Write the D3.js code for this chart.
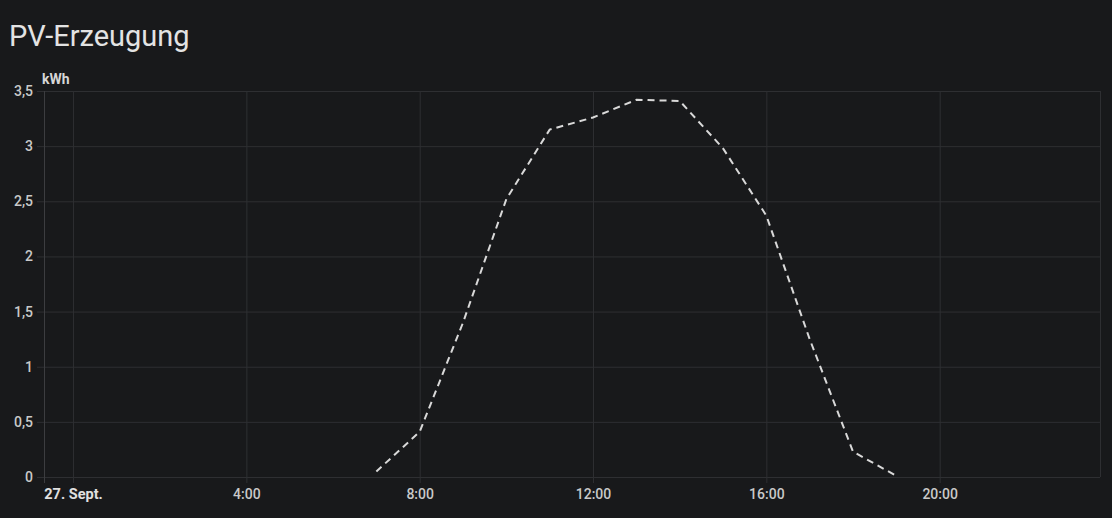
<!DOCTYPE html>
<html>
<head>
<meta charset="utf-8">
<script src="https://cdn.jsdelivr.net/npm/d3@7"></script>
<style>
  html, body { margin: 0; padding: 0; background: #18191b; }
  svg { display: block; }
</style>
</head>
<body>
<svg id="chart" width="1112" height="518"></svg>
<script>
// ---- data ----
const hours = [7, 8, 9, 10, 11, 12, 13, 14, 15, 16, 17, 18, 19];
const values = [0.05, 0.41, 1.40, 2.52, 3.15, 3.26, 3.42, 3.41, 2.98, 2.37, 1.25, 0.23, 0.01];
const xTickHours = [0, 4, 8, 12, 16, 20];
const xTickLabels = ["27. Sept.", "4:00", "8:00", "12:00", "16:00", "20:00"];
const yTicks = [0, 0.5, 1, 1.5, 2, 2.5, 3, 3.5];
const title = "PV-Erzeugung";
const unit = "kWh";

const svg = d3.select("#chart");
const W = 1112, H = 518;
const m = { left: 44, right: 12, top: 91, bottom: 41 };

const x = d3.scaleLinear().domain([-0.67, 23.7]).range([m.left, W - m.right]);
const y = d3.scaleLinear().domain([0, 3.5]).range([H - m.bottom, m.top]);

const loc = d3.formatLocale({ decimal: ",", thousands: ".", grouping: [3], currency: ["", "€"] });
const fmt = v => loc.format("~g")(v);

const gridColor = "#2e2f32";
const textColor = "#c9c9c9";

// title
svg.append("text").attr("x", 9).attr("y", 46)
  .attr("font-family", "Roboto").attr("font-size", 29)
  .attr("fill", "#e3e3e3").text(title);

// y grid + axis
const yAxis = d3.axisLeft(y).tickValues(yTicks).tickFormat(fmt)
  .tickSize(-(W - m.left - m.right) - 7).tickPadding(4);
const gy = svg.append("g").attr("transform", `translate(${m.left},0)`).call(yAxis);
gy.select(".domain").remove();
gy.selectAll(".tick line").attr("stroke", gridColor).attr("x1", -7)
  .attr("x2", W - m.left - m.right);
gy.selectAll(".tick text").attr("font-family", "Roboto").attr("font-size", 14)
  .attr("font-weight", 500).attr("fill", textColor).attr("x", -11);

// x grid + axis
const xAxis = d3.axisBottom(x).tickValues(xTickHours)
  .tickFormat((d, i) => xTickLabels[i]).tickSize(6).tickPadding(6);
const gx = svg.append("g").attr("transform", `translate(0,${H - m.bottom})`).call(xAxis);
gx.select(".domain").remove();
gx.selectAll(".tick line").attr("stroke", gridColor)
  .attr("y1", -(H - m.top - m.bottom)).attr("y2", 6);
gx.selectAll(".tick text").attr("font-family", "Roboto").attr("font-size", 14)
  .attr("font-weight", 500).attr("fill", textColor).attr("dy", "0.71em");
gx.selectAll(".tick text").filter((d, i) => i === 0)
  .attr("font-weight", 700).attr("font-size", 14.5).attr("fill", "#e0e0e0");

// frame: left axis, right border
svg.append("line").attr("x1", m.left + 0.5).attr("x2", m.left + 0.5)
  .attr("y1", m.top).attr("y2", H - m.bottom + 6).attr("stroke", "#3c3d40");
svg.append("line").attr("x1", W - m.right + 0.5).attr("x2", W - m.right + 0.5)
  .attr("y1", m.top).attr("y2", H - m.bottom).attr("stroke", gridColor);

// unit label
svg.append("text").attr("x", 42).attr("y", 84)
  .attr("font-family", "Roboto").attr("font-size", 14).attr("font-weight", 700)
  .attr("fill", "#d6d6d6").text(unit);

// line
const data = hours.map((h, i) => ({ h, v: values[i] }));
svg.append("path").datum(data)
  .attr("fill", "none").attr("stroke", "#d9d9d9").attr("stroke-width", 2)
  .attr("stroke-dasharray", "7,5")
  .attr("d", d3.line().x(d => x(d.h)).y(d => y(d.v)));
</script>
</body>
</html>
